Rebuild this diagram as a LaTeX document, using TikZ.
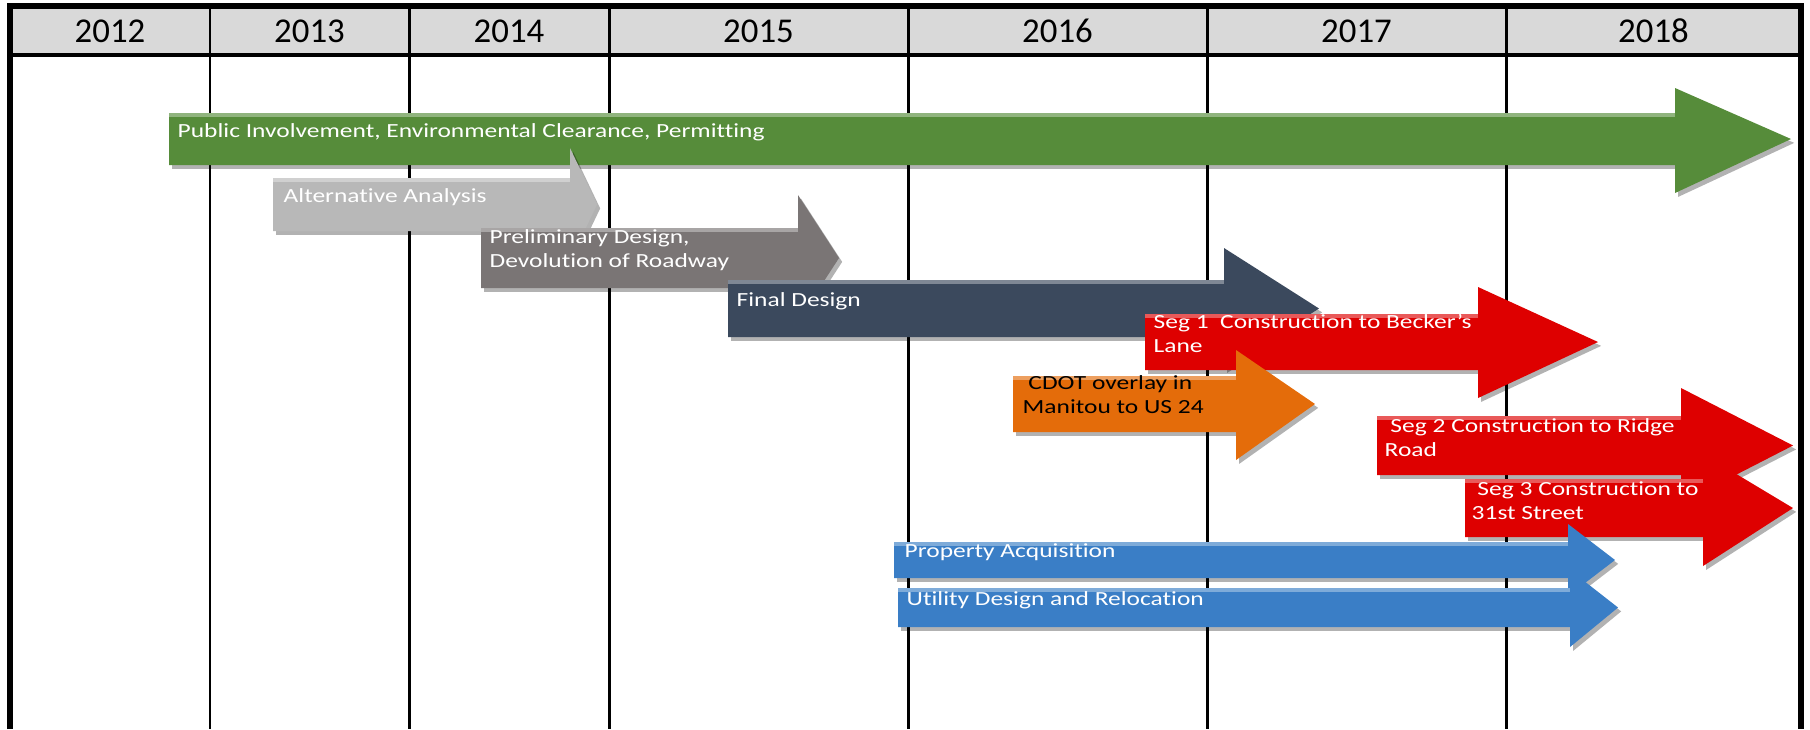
\documentclass[tikz,border=0pt]{standalone}
\usepackage{fontspec}
\setmainfont{Carlito}
\newfontfamily\barfont[FakeStretch=1.27, Ligatures={TeX,NoCommon}]{Carlito}
\usetikzlibrary{shadows}

\definecolor{gridgray}{RGB}{217,217,217}
\definecolor{envgreen}{RGB}{86,140,58}
\definecolor{altgray}{RGB}{184,184,184}
\definecolor{prelimgray}{RGB}{122,117,117}
\definecolor{finalslate}{RGB}{59,73,93}
\definecolor{segred}{RGB}{222,0,0}
\definecolor{cdotorange}{RGB}{228,108,10}
\definecolor{rowblue}{RGB}{58,126,198}

\newcommand{\blockarrow}[8]{%
  \fill[bar,#1] (#2,#3) -- (#5,#3) -- (#5,#6) -- (#8,{(#3+#4)/2}) -- (#5,#7) -- (#5,#4) -- (#2,#4) -- cycle;
  \draw[bevel] (#2,#3+2) -- (#5,#3+2);
}
\newcommand{\twolines}[2]{\begin{tabular}[t]{@{}l@{}}#1\\#2\end{tabular}}

\begin{document}
\begin{tikzpicture}[x=0.01cm, y=-0.01cm,
    bar/.style={drop shadow={shadow xshift=0.9pt, shadow yshift=-1.1pt, opacity=0.3, fill=black}},
    bevel/.style={white, opacity=0.35, line width=1.1pt},
    year/.style={anchor=base, inner sep=0pt, font=\fontsize{9.9}{12}\selectfont},
    bartext/.style={anchor=base west, inner sep=0pt, text=white, font=\barfont\fontsize{5.7}{7.1}\selectfont},
    gridline/.style={line width=0.85pt},
    frame/.style={line width=1.56pt}]
  \useasboundingbox (0,0) rectangle (1810,729);
  \fill[gridgray] (10,6) rectangle (1801,55);
  \foreach \x in {210,409,609,908,1207,1506}
    \draw[gridline] (\x,6) -- (\x,729);
  \draw[gridline, line width=1pt] (10,55) -- (1801,55);
  \draw[frame] (10,729) -- (10,6) -- (1801,6) -- (1801,729);
  \foreach \yr/\cx in {2012/110, 2013/309.5, 2014/509, 2015/758.5, 2016/1057.5, 2017/1356.5, 2018/1653.5}
    \node[year] (y\yr) at (\cx,42) {\yr};

  \blockarrow{envgreen}{169}{113}{165}{1675}{88}{193}{1791}
  \node[bartext] (pub) at (177,137) {Public Involvement, Environmental Clearance, Permitting};
  \blockarrow{altgray}{273}{178}{231}{570}{148}{261}{597}
  \node[bartext] (alt) at (283,202) {Alternative Analysis};
  \blockarrow{prelimgray}{481}{228}{288}{798}{195}{321}{839}
  \node[bartext] (prelim) at (489,243) {\twolines{Preliminary Design,}{Devolution of Roadway}};
  \blockarrow{finalslate}{728}{280}{337}{1224}{248}{369}{1319}
  \node[bartext] (final) at (736,306) {Final Design};
  \blockarrow{segred}{1145}{314}{370}{1478}{287}{398}{1598}
  \node[bartext] (seg1) at (1153,328) {\twolines{Seg 1\ \ Construction to Becker's}{Lane}};
  \blockarrow{cdotorange}{1013}{376}{432}{1236}{350}{460}{1315}
  \node[bartext, text=black] (cdot) at (1022,389) {\twolines{\ CDOT overlay in}{Manitou to US 24}};
  \blockarrow{segred}{1377}{416}{475}{1681}{388}{503}{1793}
  \node[bartext] (seg2) at (1384,432) {\twolines{\ Seg 2 Construction to Ridge}{Road}};
  \blockarrow{segred}{1465}{479}{537}{1703}{454}{566}{1793}
  \node[bartext] (seg3) at (1471,495) {\twolines{\ Seg 3 Construction to}{31st Street}};
  \blockarrow{rowblue}{894}{542}{578}{1568}{524}{596}{1615}
  \node[bartext] (prop) at (904,557) {Property Acquisition};
  \blockarrow{rowblue}{898}{588}{627}{1570}{570}{647}{1618}
  \node[bartext] (util) at (906,605) {Utility Design and Relocation};
\end{tikzpicture}
\end{document}
